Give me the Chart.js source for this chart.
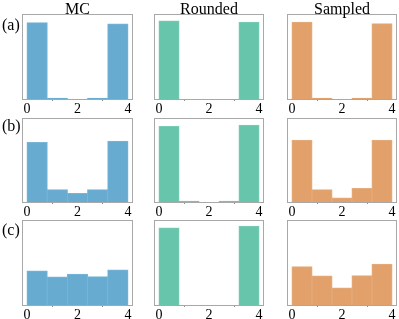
<!DOCTYPE html>
<html>
<head>
<meta charset="utf-8">
<script src="https://cdn.jsdelivr.net/npm/chart.js@4"></script>
<style>
  html, body { margin:0; padding:0; background:#fff; }
  #wrap { position:relative; width:399px; height:319px; overflow:hidden; font-family:"Liberation Serif","DejaVu Serif",serif; }
  .panel { position:absolute; }
  .lbl { position:absolute; font-size:16px; color:#000; white-space:nowrap; line-height:16px; }
</style>
</head>
<body>
<div id="wrap"></div>
<script>
// ---- data ----
const binCenters = [0.4, 1.2, 2.0, 2.8, 3.6];
const tickValues = [0, 2, 4];
const colTitles = ["MC", "Rounded", "Sampled"];
const rowLabels = ["(a)", "(b)", "(c)"];

const mcA      = [0.898, 0.008, 0.0, 0.008, 0.882];
const roundedA = [0.918, 0.0, 0.0, 0.0, 0.902];
const sampledA = [0.902, 0.010, 0.0, 0.010, 0.886];

const mcB      = [0.708, 0.145, 0.102, 0.145, 0.724];
const roundedB = [0.900, 0.008, 0.0, 0.008, 0.913];
const sampledB = [0.735, 0.145, 0.047, 0.161, 0.735];

const mcC      = [0.400, 0.329, 0.361, 0.333, 0.412];
const roundedC = [0.906, 0.0, 0.0, 0.0, 0.926];
const sampledC = [0.450, 0.341, 0.200, 0.345, 0.479];

// ---- layout / style ----
const colColors = ["rgb(103,171,209)", "rgb(103,197,171)", "rgb(226,160,106)"];
const edgeColors = ["rgb(120,181,215)", "rgb(120,205,181)", "rgb(230,172,125)"];
const colX = [[22,133],[154,264],[287,397]];
const rowY = [[14,99],[118,202],[220,305]];
const grid = [[mcA, roundedA, sampledA],[mcB, roundedB, sampledB],[mcC, roundedC, sampledC]];

const wrap = document.getElementById('wrap');
const PADX = 10, PADT = 2, AXH = 16;

const framePlugin = {
  id: 'frame',
  afterDraw(chart) {
    const a = chart.chartArea, ctx = chart.ctx;
    ctx.save();
    ctx.strokeStyle = '#a8a8a8';
    ctx.lineWidth = 1;
    ctx.strokeRect(Math.round(a.left)+0.5, Math.round(a.top)+0.5, Math.round(a.right-a.left)-1, Math.round(a.bottom-a.top));
    ctx.restore();
  }
};

for (let r = 0; r < 3; r++) {
  for (let c = 0; c < 3; c++) {
    const [fl, fr] = colX[c], [ft, fb] = rowY[r];
    const div = document.createElement('div');
    div.className = 'panel';
    const w = (fr - fl) + 2*PADX, h = (fb - ft) + PADT + AXH;
    div.style.left = (fl - PADX) + 'px';
    div.style.top = (ft - PADT) + 'px';
    div.style.width = w + 'px';
    div.style.height = h + 'px';
    const cv = document.createElement('canvas');
    cv.width = w; cv.height = h;
    div.appendChild(cv);
    wrap.appendChild(div);
    const vals = grid[r][c];
    new Chart(cv, {
      type: 'bar',
      data: {
        datasets: [{
          data: binCenters.map((x, i) => ({x: x, y: vals[i]})),
          backgroundColor: colColors[c],
          borderColor: edgeColors[c],
          borderWidth: 1,
          inflateAmount: 0.5,
          barPercentage: 1,
          categoryPercentage: 1,
          borderSkipped: 'bottom'
        }]
      },
      options: {
        responsive: false,
        animation: false,
        devicePixelRatio: 1,
        layout: { padding: { left: PADX, right: PADX, top: PADT, bottom: 0 } },
        plugins: { legend: { display: false }, tooltip: { enabled: false } },
        scales: {
          x: {
            type: 'linear',
            min: -0.2, max: 4.2,
            offset: false,
            afterBuildTicks: (s) => { s.ticks = tickValues.map(v => ({value: v})); },
            afterFit: (s) => { s.height = AXH; },
            grid: { display: true, drawOnChartArea: false, drawTicks: true, tickLength: 2, color: '#888' },
            border: { display: false },
            ticks: {
              autoSkip: false, maxRotation: 0, padding: 0,
              color: '#000',
              font: { family: 'Liberation Serif', size: 14 },
              callback: (v) => String(v)
            }
          },
          y: { display: false, min: 0, max: 1 }
        }
      },
      plugins: [framePlugin]
    });
  }
}

// column titles
colTitles.forEach((t, c) => {
  const d = document.createElement('div');
  d.className = 'lbl';
  d.textContent = t;
  const cx = (colX[c][0] + colX[c][1]) / 2;
  d.style.left = (cx - 60) + 'px';
  d.style.width = '120px';
  d.style.textAlign = 'center';
  d.style.top = '1px';
  wrap.appendChild(d);
});
// row labels
const rowLabelTop = [17, 118, 222];
rowLabels.forEach((t, r) => {
  const d = document.createElement('div');
  d.className = 'lbl';
  d.textContent = t;
  d.style.left = '2px';
  d.style.top = rowLabelTop[r] + 'px';
  wrap.appendChild(d);
});
</script>
</body>
</html>
